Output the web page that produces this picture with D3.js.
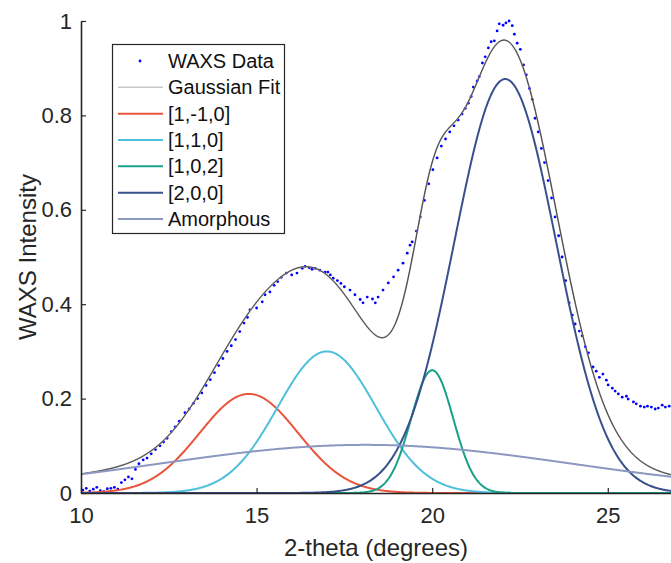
<!DOCTYPE html>
<html>
<head>
<meta charset="utf-8">
<script src="https://cdn.jsdelivr.net/npm/d3@7"></script>
<style>
  html, body { margin: 0; padding: 0; background: #fff; }
  svg { display: block; font-family: "Liberation Sans", Arial, Helvetica, sans-serif; }
</style>
</head>
<body>
<svg id="chart" width="671" height="563"></svg>
<script>
// ---------- data ----------
const dataX = [10.05,10.15,10.25,10.35,10.45,10.55,10.65,10.75,10.85,10.95,11.05,11.15,11.25,11.35,11.45,11.55,11.65,11.77,11.88,12.0,
  12.12,12.25,12.35,12.45,12.57,12.68,12.8,12.96,13.08,13.2,13.32,13.44,13.56,13.68,13.8,13.92,14.04,14.16,14.28,14.4,
  14.52,14.64,14.74,14.81,15.0,15.16,15.24,15.38,15.5,15.6,15.7,15.85,16.0,16.15,16.3,16.38,16.5,16.58,16.67,16.8,
  16.95,17.03,17.1,17.18,17.3,17.4,17.5,17.66,17.8,17.95,18.03,18.15,18.3,18.38,18.46,18.6,18.75,18.9,19.03,19.17,
  19.29,19.37,19.43,19.55,19.66,19.78,19.9,20.02,20.14,20.26,20.38,20.5,20.62,20.74,20.85,20.94,21.03,21.11,21.17,21.28,
  21.34,21.43,21.51,21.6,21.68,21.77,21.85,21.91,22.02,22.1,22.19,22.28,22.34,22.42,22.51,22.6,22.68,22.77,22.85,22.93,
  23.02,23.11,23.2,23.3,23.4,23.5,23.6,23.7,23.8,23.9,23.99,24.07,24.19,24.27,24.36,24.45,24.58,24.67,24.76,24.86,
  24.96,25.01,25.13,25.21,25.3,25.41,25.53,25.58,25.73,25.81,25.93,26.04,26.13,26.24,26.35,26.44,26.55,26.64,26.75,26.85];
const dataY = [0.006,0.010,0.004,0.008,0.012,0.005,0.003,0.009,0.010,0.012,0.008,0.022,0.028,0.034,0.030,0.050,0.062,0.070,0.074,0.083,
  0.092,0.100,0.108,0.116,0.130,0.140,0.152,0.170,0.178,0.190,0.200,0.212,0.228,0.240,0.255,0.270,0.285,0.300,0.312,0.325,
  0.342,0.360,0.372,0.388,0.392,0.405,0.420,0.426,0.440,0.448,0.457,0.466,0.462,0.466,0.476,0.480,0.477,0.474,0.476,0.472,
  0.468,0.468,0.462,0.455,0.450,0.444,0.437,0.430,0.420,0.410,0.403,0.415,0.411,0.403,0.415,0.430,0.445,0.458,0.472,0.487,
  0.508,0.525,0.532,0.555,0.585,0.620,0.655,0.685,0.710,0.735,0.750,0.765,0.778,0.790,0.803,0.815,0.826,0.840,0.860,0.873,
  0.882,0.911,0.924,0.943,0.956,0.958,0.979,0.994,0.991,0.996,1.000,0.990,0.972,0.953,0.940,0.907,0.886,0.857,0.834,0.794,
  0.765,0.730,0.700,0.662,0.625,0.585,0.545,0.500,0.450,0.403,0.377,0.358,0.343,0.333,0.310,0.297,0.267,0.258,0.245,0.252,
  0.239,0.229,0.222,0.216,0.210,0.203,0.205,0.199,0.193,0.189,0.184,0.182,0.184,0.182,0.178,0.180,0.186,0.182,0.184,0.183];

// fitted peak parameters (Gaussian components)
const peakNames   = ["[1,-1,0]", "[1,1,0]", "[1,0,2]", "[2,0,0]", "Amorphous"];
const peakCenters = [14.78, 17.0, 20.0, 22.08, 18.1];
const peakHeights = [0.21, 0.30, 0.26, 0.877, 0.102];
const peakWidths  = [1.4, 1.4, 0.60, 1.45, 5.9];
const peakColors  = ["#E8553C", "#4EBFDC", "#17A288", "#38508C", "#8C98C0"];

const xTicks = [10, 15, 20, 25];
const yTicks = [0, 0.2, 0.4, 0.6, 0.8, 1];
const yTickLabels = ["0", "0.2", "0.4", "0.6", "0.8", "1"];
const xLabel = "2-theta (degrees)";
const yLabel = "WAXS Intensity";
const legendLabels = ["WAXS Data", "Gaussian Fit"].concat(peakNames);

// ---------- drawing ----------
const svg = d3.select("#chart");
const L = 81, R = 671, T = 21, B = 493;
const x = d3.scaleLinear().domain([10, 26.8]).range([L, R]);
const y = d3.scaleLinear().domain([0, 1]).range([B, T]);

svg.append("defs").append("clipPath").attr("id", "clip")
  .append("rect").attr("x", L).attr("y", T - 5).attr("width", R - L).attr("height", B - T + 5);

const gauss = (i, t) => peakHeights[i] * Math.exp(-((t - peakCenters[i]) ** 2) / (2 * peakWidths[i] ** 2));
const grid = d3.range(10, 26.81, 0.02);
const fitSum = t => peakNames.reduce((s, _, i) => s + gauss(i, t), 0);

const plot = svg.append("g").attr("clip-path", "url(#clip)");
const line = d3.line().x(d => x(d[0])).y(d => y(d[1]));

// data points
plot.append("g").selectAll("circle").data(dataX.map((v, i) => [v, dataY[i]])).join("circle")
  .attr("cx", d => x(d[0])).attr("cy", d => y(d[1])).attr("r", 1.4).attr("fill", "#0000FF");

// gaussian fit
plot.append("path").datum(grid.map(t => [t, fitSum(t)]))
  .attr("d", line).attr("fill", "none").attr("stroke", "#9a9a9a").attr("stroke-width", 1.6);
plot.append("path").datum(grid.map(t => [t, fitSum(t)]))
  .attr("d", line).attr("fill", "none").attr("stroke", "#222").attr("stroke-width", 0.7);

// components
peakNames.forEach((n, i) => {
  plot.append("path").datum(grid.map(t => [t, gauss(i, t)]))
    .attr("d", line).attr("fill", "none").attr("stroke", peakColors[i]).attr("stroke-width", 2);
});

// axes
const axisColor = "#262626";
const xAxis = svg.append("g").attr("transform", `translate(0,${B})`)
  .call(d3.axisBottom(x).tickValues(xTicks).tickSizeInner(-5).tickSizeOuter(0).tickPadding(14));
const yAxis = svg.append("g").attr("transform", `translate(${L},0)`)
  .call(d3.axisLeft(y).tickValues(yTicks).tickFormat((d, i) => yTickLabels[i]).tickSizeInner(-5).tickSizeOuter(0).tickPadding(9));
[xAxis, yAxis].forEach(g => {
  g.select(".domain").attr("stroke", axisColor).attr("stroke-width", 1.6);
  g.selectAll(".tick line").attr("stroke", axisColor).attr("stroke-width", 1.2);
  g.selectAll(".tick text").attr("fill", axisColor).attr("font-size", 22)
    .attr("font-family", "'Liberation Sans', Arial, sans-serif");
});

svg.append("text").attr("x", (L + R) / 2).attr("y", 556).attr("text-anchor", "middle")
  .attr("font-size", 24).attr("fill", axisColor).text(xLabel);
svg.append("text").attr("transform", `translate(36,${(T + B) / 2}) rotate(-90)`).attr("text-anchor", "middle")
  .attr("font-size", 24).attr("fill", axisColor).text(yLabel);

// legend
const lg = svg.append("g");
lg.append("rect").attr("x", 112.5).attr("y", 44.5).attr("width", 172).attr("height", 189)
  .attr("fill", "#fff").attr("stroke", axisColor).attr("stroke-width", 1.2);
const rowY = d3.scaleLinear().domain([0, 6]).range([61, 219]);
const legendColors = ["#0000FF", "#c8c8c8"].concat(peakColors);
legendLabels.forEach((lab, i) => {
  const yy = rowY(i);
  if (i === 0) {
    lg.append("circle").attr("cx", 140).attr("cy", yy).attr("r", 1.4).attr("fill", legendColors[i]);
  } else {
    lg.append("line").attr("x1", 118).attr("x2", 163).attr("y1", yy).attr("y2", yy)
      .attr("stroke", legendColors[i]).attr("stroke-width", i === 1 ? 1.5 : 2);
  }
  lg.append("text").attr("x", 168).attr("y", yy + 7).attr("font-size", 20).attr("fill", "#111").text(lab);
});
</script>
</body>
</html>
